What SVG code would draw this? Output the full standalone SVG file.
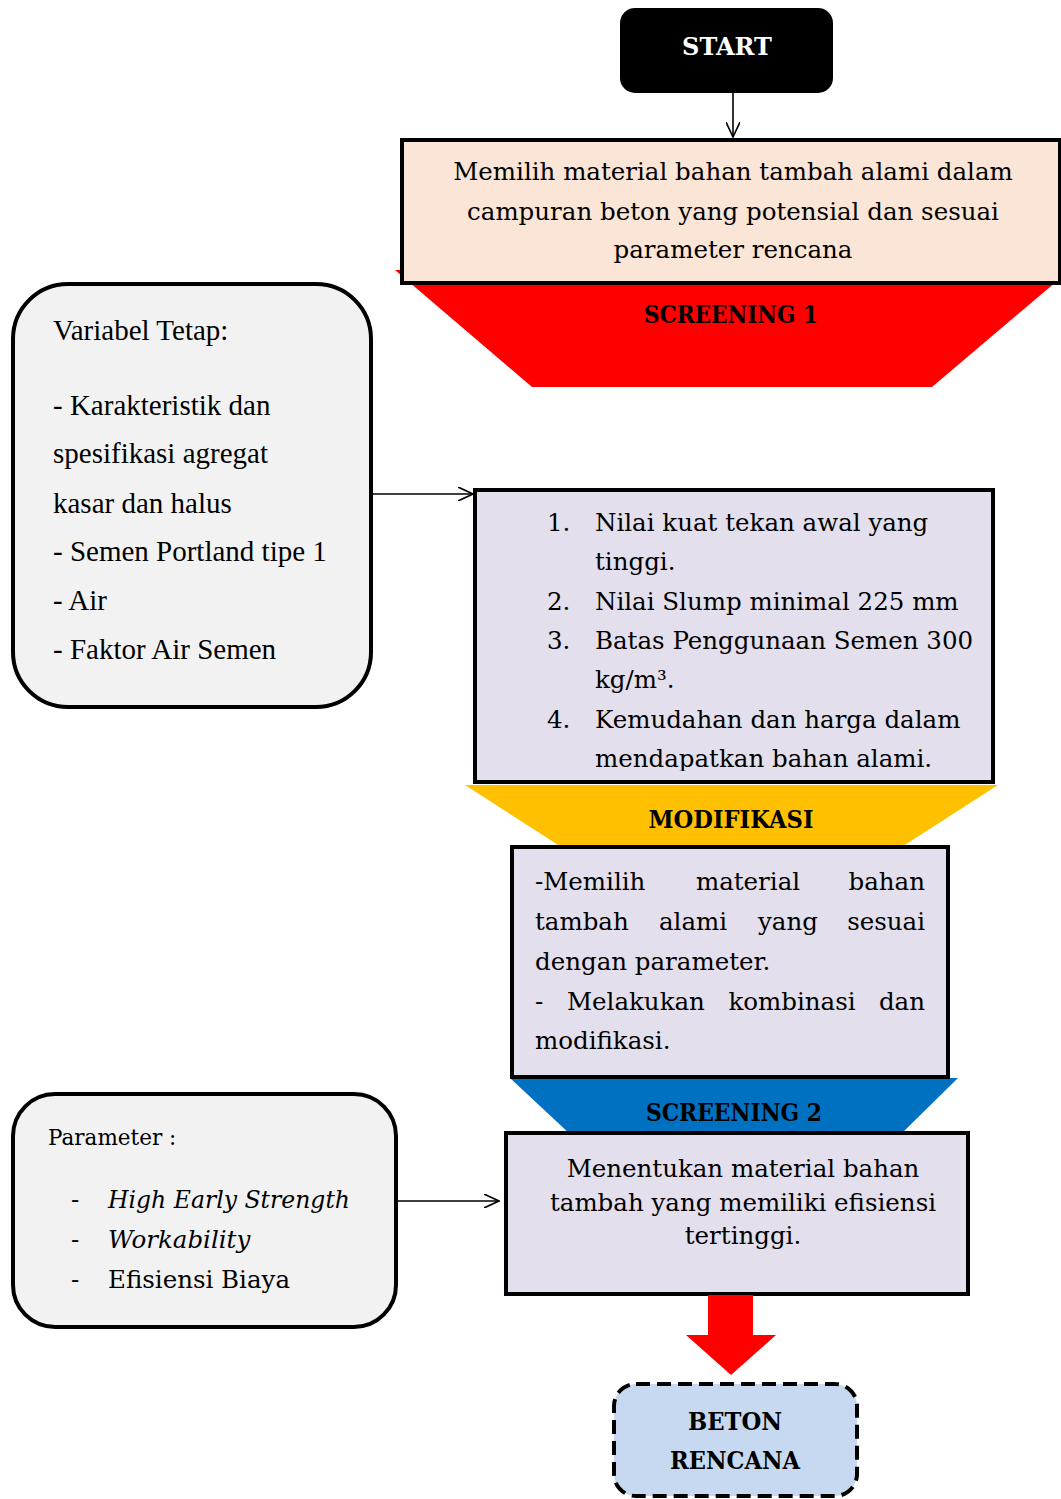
<svg xmlns="http://www.w3.org/2000/svg" width="1061" height="1499" viewBox="0 0 1061 1499">
<defs>
<style>
.cam{font-family:"DejaVu Serif","Liberation Serif",serif;font-size:24.5px;fill:#000}
.camb{font-family:"DejaVu Serif","Liberation Serif",serif;font-size:24px;font-weight:bold;fill:#000}
.tnr{font-family:"Liberation Serif","Times New Roman",serif;font-size:29px;fill:#000}
.box{stroke:#000;stroke-width:4}
.lav{fill:#E4DFEC}
.grey{fill:#F2F2F2;stroke:#000;stroke-width:4}
.conn{stroke:#000;stroke-width:1.6;fill:none}
.mid{text-anchor:middle}
.end{text-anchor:end}
</style>
<marker id="open" viewBox="0 0 16 14" refX="15" refY="7" markerWidth="16" markerHeight="14" markerUnits="userSpaceOnUse" orient="auto">
<path d="M0,0 L15,7 L0,14" fill="none" stroke="#000" stroke-width="1.6"/>
</marker>
<clipPath id="clip2"><rect x="477" y="492" width="514" height="279"/></clipPath>
</defs>
<rect width="1061" height="1499" fill="#fff"/>

<g id="screening1">
<polygon points="395,270 1070,270 932,387 532,387" fill="#FF0000"/>
<text class="camb mid" x="731" y="323" textLength="174" lengthAdjust="spacingAndGlyphs">SCREENING 1</text>
</g>

<g id="modifikasi">
<polygon points="465,785 998,785 897,850 566,850" fill="#FFC000"/>
<text class="camb mid" x="731" y="828" textLength="165" lengthAdjust="spacingAndGlyphs">MODIFIKASI</text>
</g>

<g id="screening2">
<polygon points="510,1078 958,1078 900,1135 571,1135" fill="#0070C0"/>
<text class="camb mid" x="734" y="1121" textLength="176" lengthAdjust="spacingAndGlyphs">SCREENING 2</text>
</g>

<g id="start">
<rect x="620" y="8" width="213" height="85" rx="15" fill="#000"/>
<text class="camb mid" x="727" y="55" style="fill:#fff">START</text>
</g>

<g id="memilih">
<rect class="box" x="402" y="140" width="658" height="143" fill="#FBE5D6"/>
<text class="cam mid" x="733" y="180">Memilih material bahan tambah alami dalam</text>
<text class="cam mid" x="733" y="220">campuran beton yang potensial dan sesuai</text>
<text class="cam mid" x="733" y="258">parameter rencana</text>
</g>

<g id="variabel">
<rect class="grey" x="13" y="284" width="358" height="423" rx="55"/>
<text class="tnr" x="53" y="340">Variabel Tetap:</text>
<text class="tnr" x="53" y="415">- Karakteristik dan</text>
<text class="tnr" x="53" y="463">spesifikasi agregat</text>
<text class="tnr" x="53" y="513">kasar dan halus</text>
<text class="tnr" x="53" y="561">- Semen Portland tipe 1</text>
<text class="tnr" x="53" y="610">- Air</text>
<text class="tnr" x="53" y="659">- Faktor Air Semen</text>
</g>

<g id="kriteria">
<rect class="box lav" x="475" y="490" width="518" height="292"/>
<g clip-path="url(#clip2)">
<text class="cam" x="547" y="531">1.</text>
<text class="cam" x="595" y="531">Nilai kuat tekan awal yang</text>
<text class="cam" x="595" y="570">tinggi.</text>
<text class="cam" x="547" y="610">2.</text>
<text class="cam" x="595" y="610">Nilai Slump minimal 225 mm</text>
<text class="cam" x="547" y="649">3.</text>
<text class="cam" x="595" y="649">Batas Penggunaan Semen 300</text>
<text class="cam" x="595" y="688">kg/m³.</text>
<text class="cam" x="547" y="728">4.</text>
<text class="cam" x="595" y="728">Kemudahan dan harga dalam</text>
<text class="cam" x="595" y="767">mendapatkan bahan alami.</text>
</g>
</g>

<g id="modif-box">
<rect class="box lav" x="512" y="847" width="436" height="230"/>
<text class="cam" x="535" y="890">-Memilih</text>
<text class="cam mid" x="748" y="890">material</text>
<text class="cam end" x="925" y="890">bahan</text>
<text class="cam" x="535" y="930">tambah</text>
<text class="cam mid" x="693" y="930">alami</text>
<text class="cam mid" x="788" y="930">yang</text>
<text class="cam end" x="925" y="930">sesuai</text>
<text class="cam" x="535" y="970">dengan parameter.</text>
<text class="cam" x="535" y="1010">-</text>
<text class="cam" x="567" y="1010">Melakukan</text>
<text class="cam mid" x="792" y="1010">kombinasi</text>
<text class="cam end" x="925" y="1010">dan</text>
<text class="cam" x="535" y="1049">modifikasi.</text>
</g>

<g id="parameter">
<rect class="grey" x="13" y="1094" width="383" height="233" rx="42"/>
<text class="cam" x="48" y="1145" style="font-size:21.5px">Parameter :</text>
<text class="cam" x="71" y="1208">-</text>
<text class="cam" x="108" y="1208" font-style="italic" textLength="242" lengthAdjust="spacingAndGlyphs">High Early Strength</text>
<text class="cam" x="71" y="1248">-</text>
<text class="cam" x="108" y="1248" font-style="italic">Workability</text>
<text class="cam" x="71" y="1288">-</text>
<text class="cam" x="108" y="1288">Efisiensi Biaya</text>
</g>

<g id="menentukan">
<rect class="box lav" x="506" y="1133" width="462" height="161"/>
<text class="cam mid" x="743" y="1177">Menentukan material bahan</text>
<text class="cam mid" x="743" y="1211">tambah yang memiliki efisiensi</text>
<text class="cam mid" x="743" y="1244">tertinggi.</text>
</g>

<g id="beton">
<rect x="614" y="1384" width="243" height="112" rx="22" fill="#C6D9F1" stroke="#000" stroke-width="4" stroke-dasharray="14 7"/>
<text class="camb mid" x="735" y="1430" textLength="94" lengthAdjust="spacingAndGlyphs">BETON</text>
<text class="camb mid" x="735" y="1469" textLength="130" lengthAdjust="spacingAndGlyphs">RENCANA</text>
</g>

<g id="connectors">
<line class="conn" x1="733" y1="93" x2="733" y2="137" marker-end="url(#open)"/>
<line class="conn" x1="371" y1="494" x2="473" y2="494" marker-end="url(#open)"/>
<line class="conn" x1="396" y1="1201" x2="499" y2="1201" marker-end="url(#open)"/>
<polygon points="708,1295 753,1295 753,1335 776,1335 731,1375 686,1335 708,1335" fill="#FF0000"/>
</g>
</svg>
